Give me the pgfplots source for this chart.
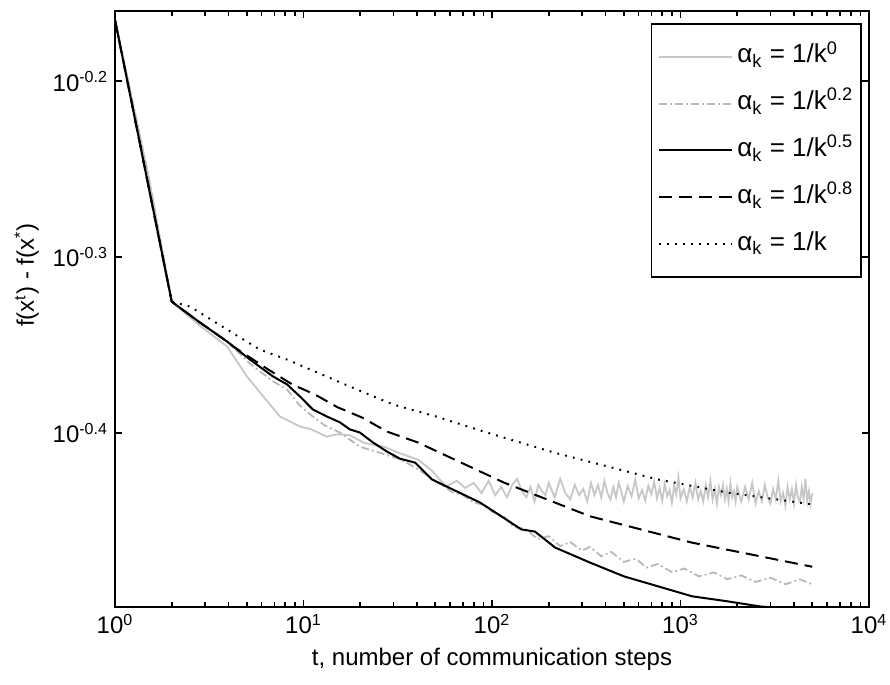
\documentclass[border=0pt]{standalone}
\usepackage{fontspec}
\setmainfont{Liberation Sans}
\usepackage{pgfplots}
\pgfplotsset{compat=1.18}
\begin{document}
\begin{tikzpicture}
\begin{axis}[
  scale only axis,
  width=377pt, height=298pt,
  xmode=log, ymode=log,
  xmin=1, xmax=10000, ymin=0.3170, ymax=0.6918,
  xtick={1,10,100,1000,10000},
  xticklabels={10\textsuperscript{0},10\textsuperscript{1},10\textsuperscript{2},10\textsuperscript{3},10\textsuperscript{4}},
  ytick={0.3981,0.5012,0.6310},
  yticklabels={10\textsuperscript{-0.4},10\textsuperscript{-0.3},10\textsuperscript{-0.2}},
  yminorticks=false,
  tick align=inside,
  major tick length=3.5pt, minor tick length=2.5pt,
  every tick/.style={black, line width=0.8pt},
  axis line style={line width=1pt},
  tick label style={font=\fontsize{12}{14}\selectfont},
  label style={font=\fontsize{12}{14}\selectfont},
  xlabel={t, number of communication steps},
  ylabel={f(x\textsuperscript{t}) - f(x\textsuperscript{*})},
  ylabel style={at={(ticklabel cs:0.557)}},
  legend cell align=left,
  legend image code/.code={\path[draw=none,fill=none] (0pt,0pt) -- (1pt,0pt); \draw[#1] (2pt,0pt) -- (38.5pt,0pt);},
  legend style={at={(1,1)}, anchor=north east, xshift=-3.5pt, yshift=-6pt,
    draw=black, line width=0.8pt, inner xsep=2pt, inner ysep=7.5pt, row sep=5.4pt,
    font=\fontsize{13}{15}\selectfont,
    nodes={text height=10pt, text depth=4pt}},
]
% alpha = 1/k^0 (constant step)
\addplot[black!22, line width=0.9pt] coordinates {
(1,0.6838)(1.5,0.5583)(2,0.4728)(2.82,0.4582)(3.93,0.4459)(5.01,0.4287)(5.88,0.4198)(7.5,0.4068)(9.58,0.4015)(11,0.4000)(13.3,0.3963)(15,0.3975)(17.6,0.3970)(21,0.3930)(26.7,0.3911)(32,0.3880)(40.5,0.3845)(48,0.3790)(57,0.3712)(65,0.3740)(72,0.3705)
(80,0.3730)(88,0.3680)(96,0.3740)(104,0.3670)(112,0.3710)(120,0.3660)(128,0.3720)(136,0.3750)(144,0.3690)(152,0.3660)(160,0.3710)(168,0.3640)(176,0.3720)(184,0.3690)(192,0.3670)(200,0.3730)
(215,0.3660)(230,0.3750)(245,0.3680)(260,0.3650)(275,0.3720)(290,0.3670)(305,0.3700)(320,0.3640)(335,0.3730)(350,0.3670)(365,0.3720)(380,0.3660)(395,0.3740)(410,0.3680)(425,0.3650)(440,0.3710)(455,0.3660)(470,0.3730)(485,0.3690)(500,0.3640)
(525,0.3715)(550,0.3665)(575,0.3745)(600,0.3655)(625,0.3695)(650,0.3645)(675,0.3715)(700,0.3675)(725,0.3735)(750,0.3655)(775,0.3705)(800,0.3645)(825,0.3725)(850,0.3665)(875,0.3695)(900,0.3635)(925,0.3715)(950,0.3675)(975,0.3755)(1000,0.3655)
(1040,0.3700)(1080,0.3640)(1120,0.3710)(1160,0.3660)(1200,0.3730)(1240,0.3650)(1280,0.3690)(1320,0.3640)(1360,0.3720)(1400,0.3660)(1440,0.3740)(1480,0.3650)(1520,0.3700)(1560,0.3630)(1600,0.3710)(1640,0.3670)(1680,0.3720)(1720,0.3650)(1760,0.3700)(1800,0.3640)(1840,0.3730)(1880,0.3660)(1920,0.3690)(1960,0.3640)(2000,0.3710)
(2100,0.3640)(2200,0.3710)(2300,0.3650)(2400,0.3730)(2500,0.3630)(2600,0.3690)(2700,0.3640)(2800,0.3720)(2900,0.3660)(3000,0.3630)(3100,0.3700)(3200,0.3650)(3300,0.3740)(3400,0.3640)(3500,0.3680)(3600,0.3620)(3700,0.3710)(3800,0.3650)(3900,0.3700)(4000,0.3630)(4100,0.3720)(4200,0.3660)(4300,0.3640)(4400,0.3710)(4500,0.3650)(4600,0.3750)(4700,0.3640)(4800,0.3690)(4900,0.3630)(5000,0.3680)
};
\addlegendentry{α\textsubscript{k} = 1/k\textsuperscript{0}}
% alpha = 1/k^0.2
\addplot[black!28, line width=0.9pt, dash pattern=on 4pt off 1.5pt on 1pt off 1.5pt] coordinates {
(1,0.6838)(1.5,0.5583)(2,0.4728)(2.82,0.4601)(3.93,0.4488)(5.2,0.4360)(6.89,0.4260)(8.17,0.4215)(9.5,0.4130)(11.2,0.4068)(13,0.4020)(15.6,0.3984)(19.9,0.3911)(25.5,0.3880)(32.9,0.3845)(40,0.3800)(50,0.3740)(62.1,0.3683)
(70,0.3672)(80,0.3635)(90,0.3625)(100,0.3592)(116,0.3568)(130,0.3520)(150,0.3512)(175,0.3465)(200,0.3478)(230,0.3433)(260,0.3452)(300,0.3413)(331,0.3430)(380,0.3388)(430,0.3407)(500,0.3363)(580,0.3377)(660,0.3338)(760,0.3354)(900,0.3318)(1050,0.3334)(1250,0.3300)(1500,0.3317)(1766,0.3288)(2100,0.3304)(2500,0.3276)(3000,0.3294)(3600,0.3266)(4300,0.3287)(5000,0.3266)
};
\addlegendentry{α\textsubscript{k} = 1/k\textsuperscript{0.2}}
% alpha = 1/k^0.5
\addplot[black, line width=1pt] coordinates {
(1,0.6838)(2,0.4728)(2.82,0.4601)(3.93,0.4488)(5.20,0.4383)(6.89,0.4287)(8.17,0.4243)(9.58,0.4176)(11.2,0.4106)(13.3,0.4068)(15.6,0.4037)(17.6,0.4000)(19.9,0.3984)(23.4,0.3932)(27.7,0.3886)(32.5,0.3850)(39.1,0.3830)(48.1,0.3746)(62.1,0.3697)(86.4,0.3635)(112,0.3570)(143,0.3509)(169,0.3499)(216,0.3427)(331,0.3360)(501,0.3300)(760,0.3257)(1151,0.3215)(1766,0.3194)(2673,0.3172)(3810,0.3164)(5000,0.3152)
};
\addlegendentry{α\textsubscript{k} = 1/k\textsuperscript{0.5}}
% alpha = 1/k^0.8
\addplot[black, line width=1pt, dash pattern=on 6.5pt off 3.5pt] coordinates {
(1,0.6838)(2,0.4728)(2.82,0.4601)(3.93,0.4488)(4.23,0.4459)(6.40,0.4331)(8.69,0.4243)(11.5,0.4187)(15.2,0.4117)(20.4,0.4063)(27.7,0.3989)(40.5,0.3932)(116,0.3731)(331,0.3570)(1151,0.3449)(5000,0.3342)
};
\addlegendentry{α\textsubscript{k} = 1/k\textsuperscript{0.8}}
% alpha = 1/k
\addplot[black, line width=1pt, dash pattern=on 0.9pt off 3.1pt] coordinates {
(1,0.6838)(2,0.4728)(2.5,0.4698)(3.93,0.4559)(5.88,0.4440)(8.17,0.4383)(11.8,0.4310)(17.6,0.4231)(29.8,0.4133)(50.5,0.4068)(94,0.3984)(216,0.3880)(760,0.3746)(1766,0.3683)(5000,0.3626)
};
\addlegendentry{α\textsubscript{k} = 1/k}
\end{axis}
\pgfresetboundingbox
\path[use as bounding box] ([shift={(-57.5pt,-38.5pt)}]current axis.south west) rectangle ([shift={(10.5pt,5.5pt)}]current axis.north east);
\end{tikzpicture}
\end{document}
